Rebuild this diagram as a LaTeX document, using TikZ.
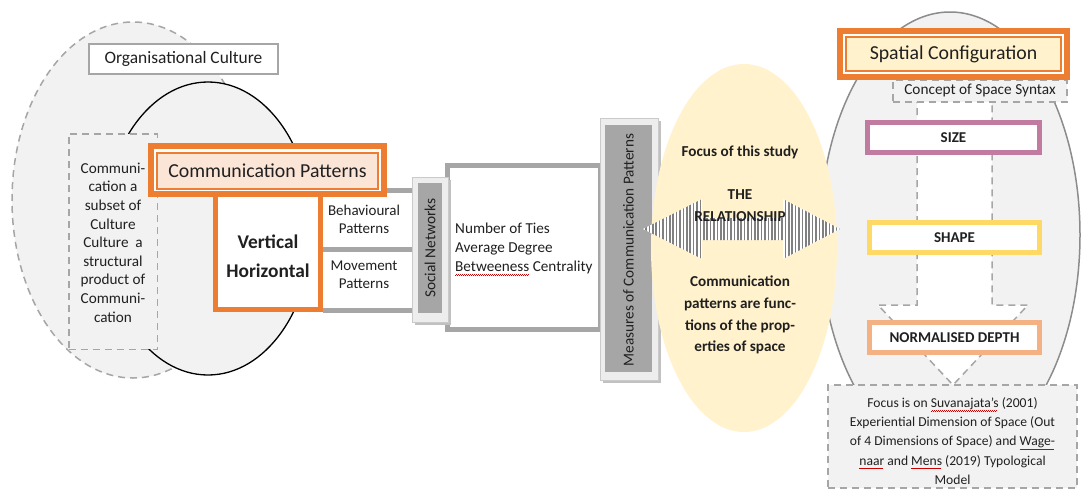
\documentclass[tikz,border=0pt]{standalone}
\usepackage{fontspec}
\setmainfont{Carlito}
\usetikzlibrary{patterns.meta}
\definecolor{org}{HTML}{ED7D31}
\definecolor{peach}{HTML}{FBE5D6}
\definecolor{lyel}{HTML}{FFF2CC}
\definecolor{lgray}{HTML}{F2F2F2}
\definecolor{fgray}{HTML}{EDEDED}
\definecolor{mgray}{HTML}{A6A6A6}
\definecolor{dgray}{HTML}{8C8C8C}
\definecolor{mauve}{HTML}{C27BA0}
\definecolor{gold}{HTML}{FFD966}
\definecolor{salmon}{HTML}{F4B183}
\definecolor{txtc}{HTML}{202020}
\newsavebox\wavebox
\newcommand\redwave[1]{\sbox\wavebox{#1}\rlap{\color{red!80!black}\leaders\hbox to 2pt{\rule[-3.6pt]{1pt}{0.5pt}\rule[-3.1pt]{1pt}{0.5pt}}\hskip\wd\wavebox}\usebox\wavebox}
\tikzset{
  fs/.style 2 args={font=\fontsize{#1}{#2}\selectfont},
  tx/.style={inner sep=0pt, text=txtc},
  dline/.style={draw=mgray, line width=1.5pt, dash pattern=on 7pt off 5pt},
  graybox/.style={draw=mgray, line width=2pt, fill=white},
  orbox/.style={draw=org, line width=6pt, fill=white},
  orinner/.style={draw=org, line width=1.2pt},
  propbox/.style={line width=5pt, fill=white, font=\bfseries\fontsize{15}{18}\selectfont, text=txtc},
  bar/.style={draw=mgray, line width=5pt},
}
\begin{document}
\begin{tikzpicture}[x=1pt,y=-1pt]
\useasboundingbox (0,0) rectangle (1081,490);
\fill[white] (0,0) rectangle (1081,490);

% ---------- left group ----------
\draw[dline, fill=lgray] (133,200) ellipse [x radius=121pt, y radius=178pt];
\draw[black, line width=1.3pt, fill=lgray] (208,228.5) ellipse [x radius=104pt, y radius=146.5pt];

\node[graybox, minimum width=189pt, minimum height=30pt, tx, fs={17.4}{20}] (orgc) at (183.5,59) {Organisational Culture};

\node[dline, fill=lgray, minimum width=88.5pt, minimum height=215.5pt] (subbox) at (113,241.5) {};
\node[tx, fs={15.2}{18.6}, align=center] (subtxt) at (113,242.5)
  {Communi-\\cation a\\subset of\\Culture\\Culture\ \ a\\structural\\product of\\Communi-\\cation};

% behavioural / movement
\draw[bar] (323,190) -- (412,190);
\draw[bar] (323,249) -- (412,249);
\draw[bar] (323,310) -- (412,310);
\node[tx, fs={15}{18}, align=center] (beh) at (364,219) {Behavioural\\Patterns};
\node[tx, fs={15}{18}, align=center] (mov) at (364,275) {Movement\\Patterns};

\node[draw=org, line width=5pt, fill=white, minimum width=105pt, minimum height=129pt] (vh) at (268,245) {};
\node[tx, font=\bfseries\fontsize{19.4}{29}\selectfont, align=center] (vhtxt) at (268,256) {Vertical\\Horizontal};

\node[orbox, minimum width=233pt, minimum height=48pt] (cpo) at (267.5,170) {};
\node[orinner, fill=peach, minimum width=221pt, minimum height=36pt, tx, fs={19.8}{22}] (cp) at (267.5,171) {Communication Patterns};

% number of ties
\node[draw=mgray, line width=5pt, fill=white, minimum width=153pt, minimum height=164pt] (nbox) at (524,247.5) {};
\node[tx, fs={15.2}{19}, align=left, anchor=west] (ntxt) at (455,249)
  {Number of Ties\\Average Degree\\\redwave{Betweeness} Centrality};

% social networks
\fill[mgray!70] (415,180) rectangle (451,325);
\node[draw=mgray!60, fill=fgray, line width=0.8pt, minimum width=36pt, minimum height=145pt] (sno) at (430,249.5) {};
\node[fill=mgray, minimum width=24pt, minimum height=130pt, inner sep=0pt] (sn) at (430,248) {};
\node[tx, fs={15.4}{17}, rotate=90] (sntxt) at (430,248) {Social Networks};

% measures
\fill[mgray!70] (603,121) rectangle (661,383);
\node[draw=mgray!60, fill=fgray, line width=0.8pt, minimum width=58pt, minimum height=262pt] (mco) at (629,249) {};

% ---------- right group ----------
\draw[dgray, line width=1.5pt, fill=lgray] (950,235) ellipse [x radius=130pt, y radius=223pt];

\node[fill=mgray, minimum width=47pt, minimum height=247pt, inner sep=0pt] (mc) at (628.5,248.5) {};

% yellow ellipse
\fill[lyel] (744,248) ellipse [x radius=93pt, y radius=184pt];
\node[tx, fs={15.2}{17}, rotate=90] (mctxt) at (628.5,250) {Measures of Communication Patterns};

% hatched double arrow
\path[fill=white] (643,229) -- (702,199) -- (702,218) -- (783,218) -- (783,199) -- (840,229)
  -- (783,259) -- (783,240) -- (702,240) -- (702,259) -- cycle;
\path[pattern={Lines[angle=90,distance=3.4pt,line width=1.5pt]}, pattern color=black!50]
  (643,229) -- (702,199) -- (702,218) -- (783,218) -- (783,199) -- (840,229)
  -- (783,259) -- (783,240) -- (702,240) -- (702,259) -- cycle;

\node[tx, font=\bfseries\fontsize{15.2}{18}\selectfont] (focus) at (740,152) {Focus of this study};
\node[tx, font=\bfseries\fontsize{15.2}{22}\selectfont, align=center] (rel) at (740,206) {THE\\RELATIONSHIP};
\node[tx, font=\bfseries\fontsize{15.2}{21.8}\selectfont, align=center] (func) at (740,315)
  {Communication\\patterns are func-\\tions of the prop-\\erties of space};

% downward dashed block arrow
\draw[dline, fill=white] (917,96) -- (917,305) -- (878,305) -- (953,385) -- (1028,305) -- (992,305) -- (992,96);

\node[dline, fill=lgray, minimum width=174pt, minimum height=22pt] (concept) at (980,91) {};
\node[tx, fs={15.3}{17}] (concepttxt) at (980,90) {Concept of Space Syntax};

\node[orbox, minimum width=227pt, minimum height=46pt] (spo) at (953.5,54) {};
\node[orinner, fill=lyel, minimum width=215pt, minimum height=34pt, tx, fs={19.8}{22}] (sp) at (953.5,54) {Spatial Configuration};

\node[propbox, draw=mauve, minimum width=172pt, minimum height=30pt] (size) at (953.5,137.5) {SIZE};
\node[propbox, draw=gold, minimum width=170pt, minimum height=30pt] (shape) at (954.5,237.5) {SHAPE};
\node[propbox, draw=salmon, minimum width=170pt, minimum height=30pt] (depth) at (954.5,337.5) {NORMALISED DEPTH};

\node[dline, fill=lgray, minimum width=249pt, minimum height=103pt] (botbox) at (952.5,436.5) {};
\node[tx, fs={13.6}{19.2}, align=center] (bottxt) at (952.5,441)
  {Focus is on \redwave{Suvanajata’s} (2001)\\Experiential Dimension of Space (Out\\of 4 Dimensions of Space) and \redwave{Wage-}\\\redwave{naar} and \redwave{Mens} (2019) Typological\\Model};
\end{tikzpicture}
\end{document}
